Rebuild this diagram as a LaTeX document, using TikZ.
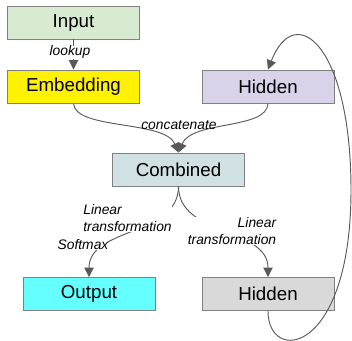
\documentclass[tikz,border=0pt]{standalone}
\usepackage{fontspec}
\setmainfont{Liberation Sans}
\usetikzlibrary{arrows.meta}
\definecolor{inputgreen}{HTML}{D9EAD3}
\definecolor{hiddenpurple}{HTML}{D9D2E9}
\definecolor{combinedblue}{HTML}{D0E0E3}
\definecolor{outputcyan}{HTML}{66FFFF}
\definecolor{hiddengray}{HTML}{D9D9D9}
\definecolor{boxgray}{HTML}{808080}
\definecolor{linegray}{HTML}{595959}
\begin{document}
\begin{tikzpicture}[x=0.03cm,y=-0.03cm,
>={Triangle[length=8pt,width=8pt]},
every node/.style={font=\fontsize{16}{19}\selectfont},
layer/.style={draw=boxgray,line width=0.8pt,minimum width=3.96cm,minimum height=0.99cm,inner sep=0pt},
edgelabel/.style={font=\fontsize{11.8}{14.5}\selectfont\itshape,fill=white,inner sep=0pt},
link/.style={->,draw=linegray,line width=0.8pt}]

\useasboundingbox (0,0) rectangle (352,341);

\node[layer,fill=inputgreen] (input) at (73.5,22.5) {Input};
\node[layer,fill=yellow] (embedding) at (73.5,86.5) {Embedding};
\node[layer,fill=hiddenpurple] (hidden) at (268,86.5) {Hidden};
\node[layer,fill=combinedblue] (combined) at (178.5,169.5) {Combined};
\node[layer,fill=outputcyan] (output) at (89,294) {Output};
\node[layer,fill=hiddengray] (newhidden) at (268,294) {Hidden};

\coordinate (loop) at (351,190);

\draw[link] (input) -- node[edgelabel,pos=0.42,xshift=-3pt]{lookup} (embedding);
\draw[link] (embedding.south) .. controls (75,130) and (165,120) .. (combined.north);
\draw[link] (hidden.south) .. controls (267,130) and (192,120) .. (combined.north);
\draw[link] (combined.south) to[out=-90,in=90] (output.north);
\draw[link] (combined.south) to[out=-90,in=90] (newhidden.north);
\draw[link] (newhidden.south) .. controls (268,365) and (351,355) .. (loop)
  .. controls (351,45) and (295,0) .. (hidden.north);

\node[edgelabel,fill=none] (concat) at (179,125) {concatenate};
\node[edgelabel,align=left] (lintop) at (127.5,218) {Linear\\transformation};
\node[edgelabel] (softmax) at (83,245) {Softmax};
\node[edgelabel,align=right] (linright) at (232,231) {Linear\\transformation};

\end{tikzpicture}
\end{document}
